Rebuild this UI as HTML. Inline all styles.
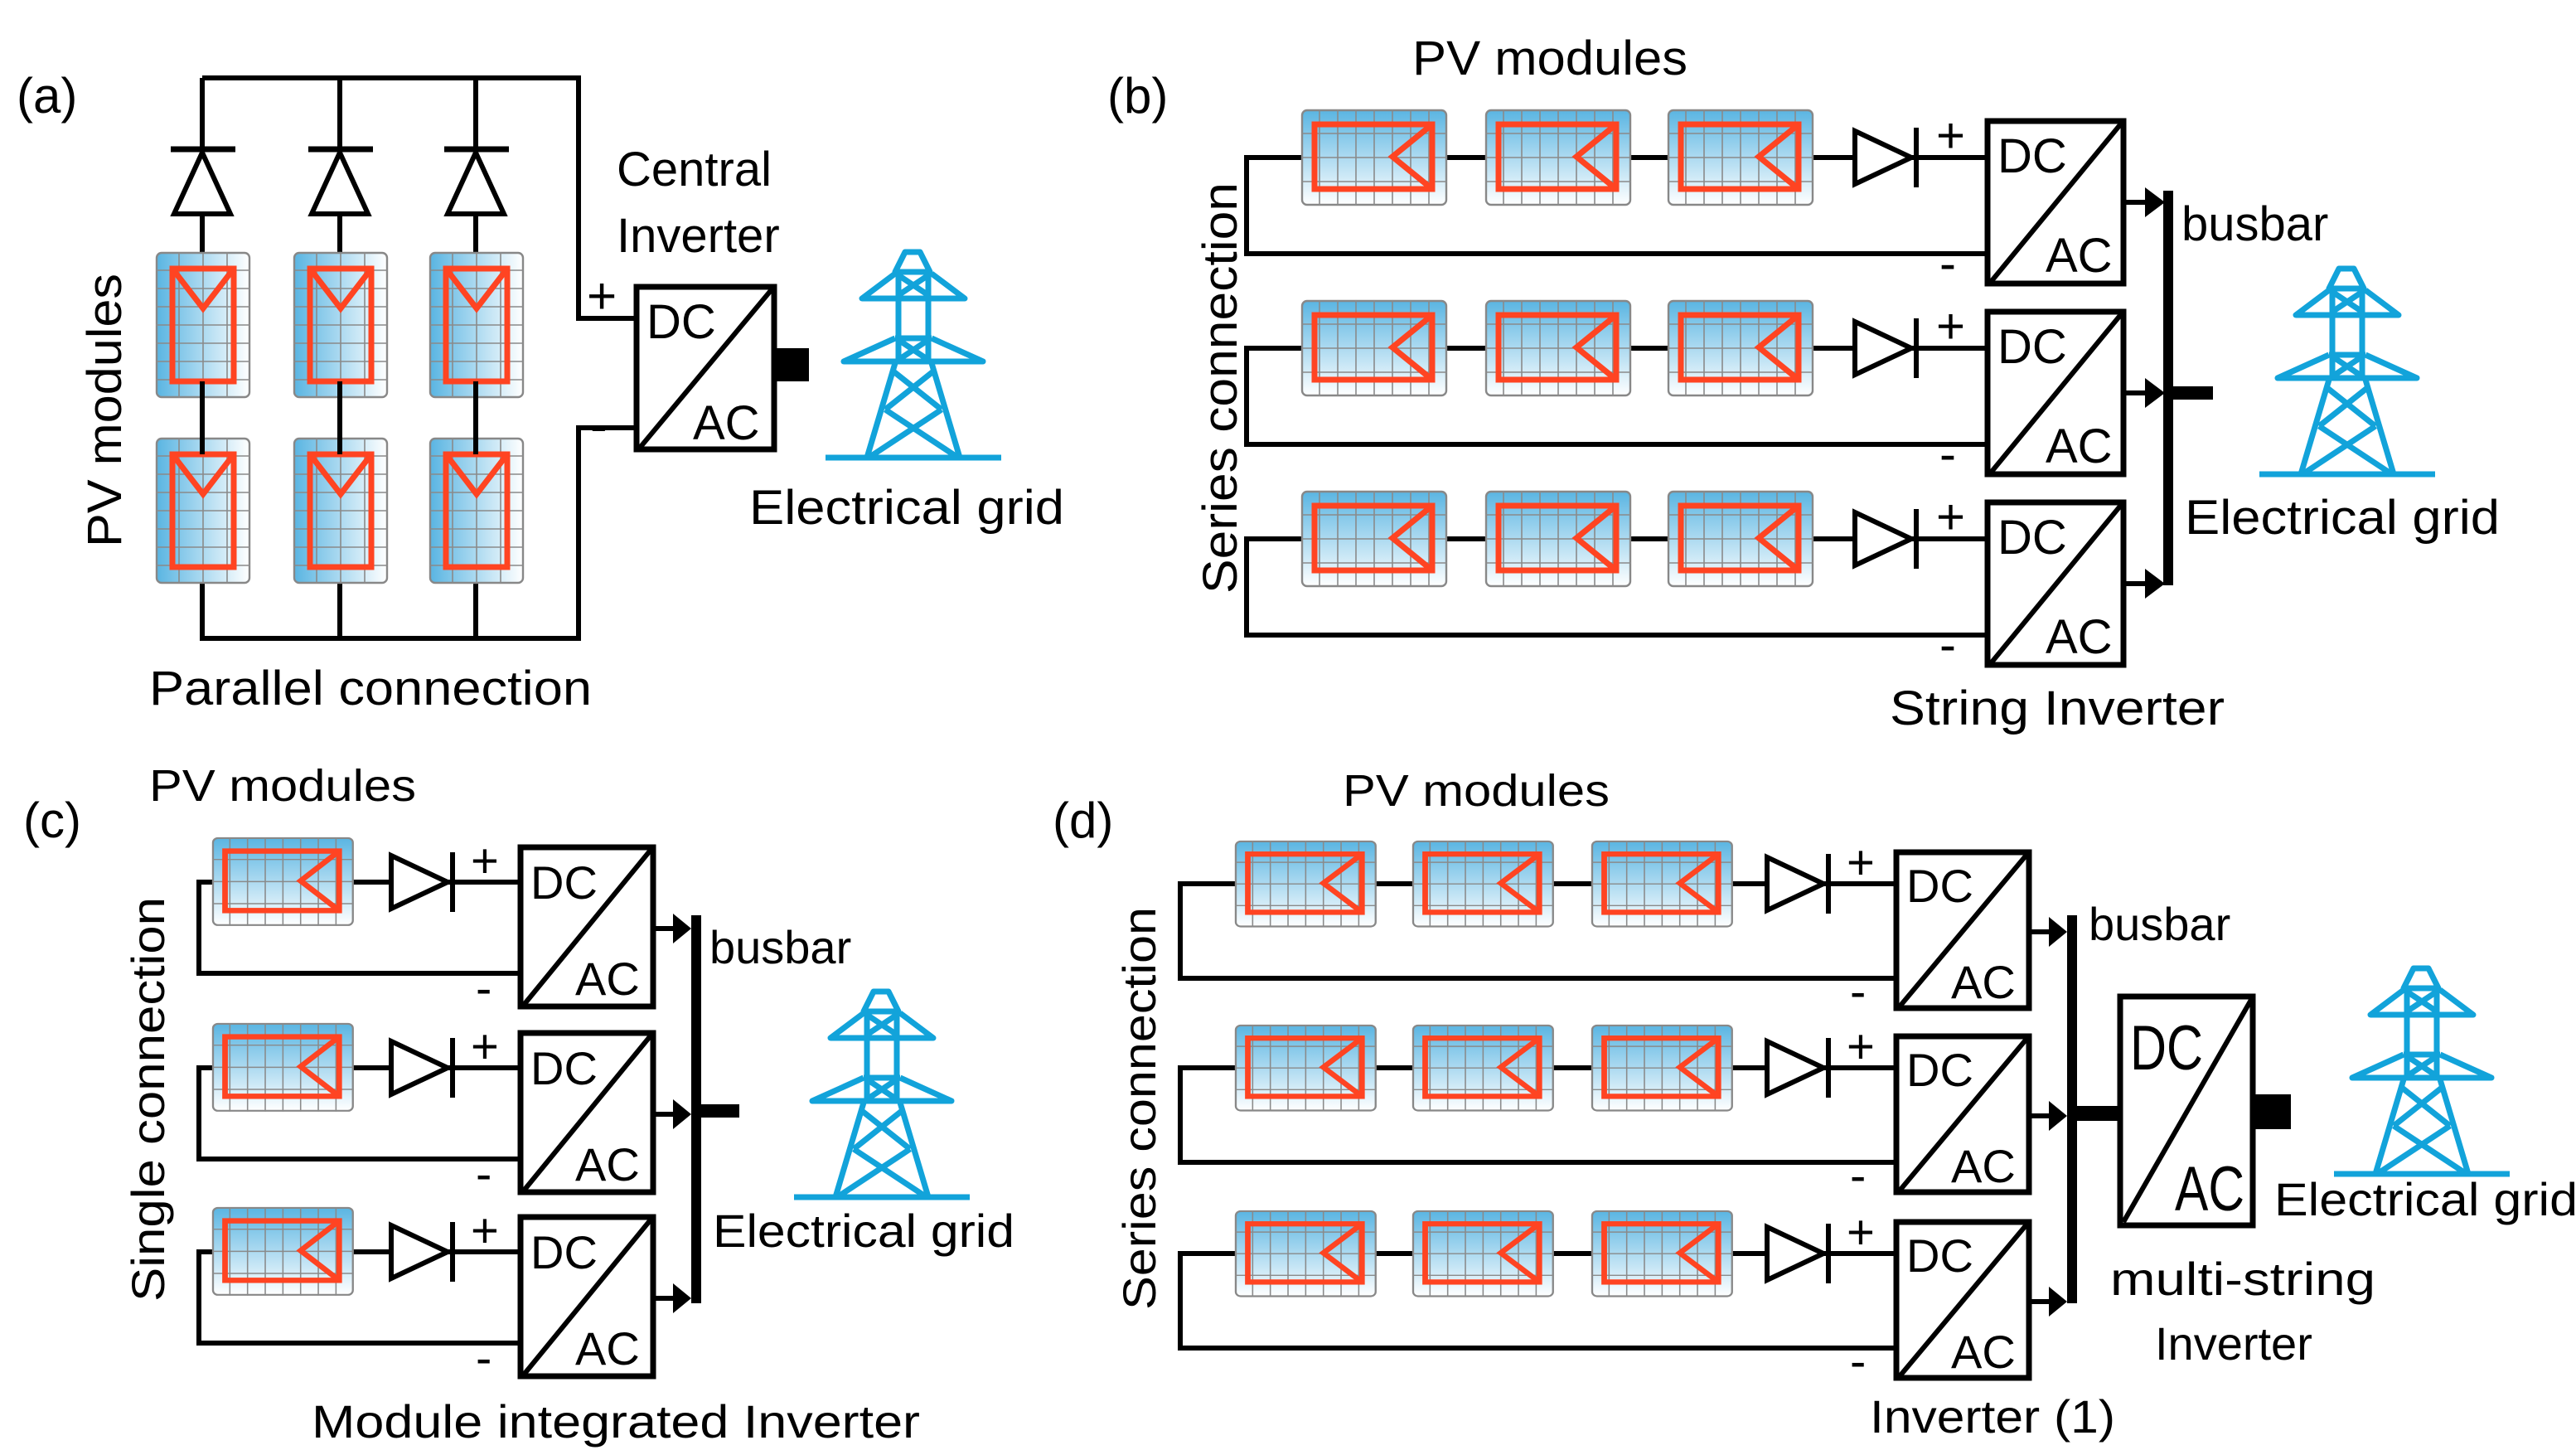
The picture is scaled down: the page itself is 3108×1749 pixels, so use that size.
<!DOCTYPE html>
<html><head><meta charset="utf-8"><style>html,body{margin:0;padding:0;background:#fff}svg{display:block}text{font-family:"Liberation Sans",sans-serif;fill:#000}</style></head><body>
<svg width="3108" height="1749" viewBox="0 0 1554 874.5" xmlns="http://www.w3.org/2000/svg">
<defs>
<linearGradient id="gv" x1="0" y1="0" x2="0" y2="1"><stop offset="0" stop-color="#5ab5e2"/><stop offset="1" stop-color="#ffffff"/></linearGradient>
<linearGradient id="gh" x1="0" y1="0" x2="1" y2="0"><stop offset="0" stop-color="#5ab5e2"/><stop offset="1" stop-color="#ffffff"/></linearGradient>
<g id="mh">
<rect x="0.5" y="0.5" width="87" height="57" rx="3" fill="url(#gv)" stroke="#888" stroke-width="1.2"/>
<path d="M11 0V58M22 0V58M33 0V58M44 0V58M55 0V58M66 0V58M77 0V58M0 14.5H88M0 29H88M0 43.5H88" stroke="#8a8a8a" stroke-width="0.8" fill="none"/>
<rect x="8" y="9" width="71" height="39" fill="none" stroke="#ff4422" stroke-width="3.5"/>
<path d="M79 9L55 28.5L79 48" fill="none" stroke="#ff4422" stroke-width="3.5"/>
</g>
<g id="mv">
<rect x="0.5" y="0.5" width="56" height="87" rx="3" fill="url(#gh)" stroke="#888" stroke-width="1.2"/>
<path d="M0 11H57M0 22H57M0 33H57M0 44H57M0 55H57M0 66H57M0 77H57M14 0V88M28.5 0V88M43 0V88" stroke="#8a8a8a" stroke-width="0.8" fill="none"/>
<rect x="10" y="10" width="37" height="68" fill="none" stroke="#ff4422" stroke-width="3.5"/>
<path d="M10 10L28.5 34L47 10" fill="none" stroke="#ff4422" stroke-width="3.5"/>
</g>
<g id="tw" fill="none" stroke="#12a3da" stroke-width="3.5" stroke-linejoin="round">
<path d="M-5 0H4L10 12H-11Z"/>
<path d="M-11 13L-31 28H31L11 13"/>
<path d="M-9 12V66M9 12V66"/>
<path d="M-9 14L9 26M9 14L-9 26"/>
<path d="M-11 52H11M-11 52L-42 66H42L11 52"/>
<path d="M-9 53L9 65M9 53L-9 65"/>
<path d="M-11 67L-28 124M11 67L28 124"/>
<path d="M-12 72L17 95M12 72L-17 95M-17 95L27 124M17 95L-27 124"/>
<path d="M-53 124H53"/>
</g>
<g id="dr"><polygon points="0,-16 34,0 0,16" fill="#fff" stroke="#000" stroke-width="3"/><line x1="37" y1="-18" x2="37" y2="18" stroke="#000" stroke-width="3"/></g>
</defs>

<!-- ===== (a) ===== -->
<g fill="none" stroke="#000" stroke-width="3">
<path d="M122 47H349V192H383"/>
<path d="M122 47V385H349V258H383"/>
<path d="M205 47V385M287 47V385"/>
</g>
<g>
<polygon points="122,92 105,129 139,129" fill="#fff" stroke="#000" stroke-width="3"/>
<polygon points="205,92 188,129 222,129" fill="#fff" stroke="#000" stroke-width="3"/>
<polygon points="287,92 270,129 304,129" fill="#fff" stroke="#000" stroke-width="3"/>
<path d="M103 90H142M186 90H225M268 90H307" stroke="#000" stroke-width="3.5"/>
</g>
<use href="#mv" x="94" y="152"/><use href="#mv" x="177" y="152"/><use href="#mv" x="259" y="152"/>
<use href="#mv" x="94" y="264"/><use href="#mv" x="177" y="264"/><use href="#mv" x="259" y="264"/>
<path d="M122 230V274M205 230V274M287 230V274" stroke="#000" stroke-width="3"/>
<rect x="384" y="173" width="83" height="98" fill="#fff" stroke="#000" stroke-width="3.5"/>
<line x1="386" y1="270" x2="466" y2="174" stroke="#000" stroke-width="3"/>
<text x="390" y="204" font-size="29">DC</text><text x="418" y="265" font-size="29">AC</text>
<rect x="468" y="210" width="20" height="20" fill="#000"/>
<text x="354" y="189" font-size="31">+</text><text x="356" y="267" font-size="31">-</text>
<text x="372" y="112" font-size="29">Central</text><text x="372" y="152" font-size="29">Inverter</text>
<use href="#tw" x="551" y="152"/>
<text x="452" y="316" font-size="29" textLength="190" lengthAdjust="spacingAndGlyphs">Electrical grid</text>
<text x="10" y="68" font-size="30">(a)</text>
<text transform="translate(73,330) rotate(-90)" font-size="29" textLength="165" lengthAdjust="spacingAndGlyphs">PV modules</text>
<text x="90" y="425" font-size="29" textLength="267" lengthAdjust="spacingAndGlyphs">Parallel connection</text>

<!-- ===== (b) ===== -->
<text x="668" y="68" font-size="30">(b)</text>
<text x="852" y="45" font-size="29" textLength="166" lengthAdjust="spacingAndGlyphs">PV modules</text>
<g id="rowb">
<path d="M1198 95H752V153H1198" fill="none" stroke="#000" stroke-width="3"/>
<use href="#mh" x="785" y="66"/><use href="#mh" x="896" y="66"/><use href="#mh" x="1006" y="66"/>
<use href="#dr" x="1119" y="95"/>
<rect x="1199" y="73" width="82" height="98" fill="#fff" stroke="#000" stroke-width="3.5"/>
<line x1="1201" y1="170" x2="1280" y2="74" stroke="#000" stroke-width="3"/>
<text x="1205" y="104" font-size="29">DC</text><text x="1234" y="164" font-size="29">AC</text>
<text x="1168" y="92" font-size="30">+</text><text x="1170" y="169" font-size="30">-</text>
<line x1="1282" y1="122" x2="1298" y2="122" stroke="#000" stroke-width="3"/>
<polygon points="1294,113 1306,122 1294,131" fill="#000"/>
</g>
<use href="#rowb" y="115"/><use href="#rowb" y="230"/>
<rect x="1305" y="115" width="6" height="238" fill="#000"/>
<rect x="1308" y="233" width="27" height="8" fill="#000"/>
<text x="1316" y="145" font-size="29">busbar</text>
<use href="#tw" x="1416" y="162"/>
<text x="1318" y="322" font-size="29" textLength="190" lengthAdjust="spacingAndGlyphs">Electrical grid</text>
<text x="1140" y="437" font-size="29" textLength="202" lengthAdjust="spacingAndGlyphs">String Inverter</text>
<text transform="translate(746,358) rotate(-90)" font-size="29" textLength="248" lengthAdjust="spacingAndGlyphs">Series connection</text>

<!-- ===== (c) ===== -->
<text x="14" y="505" font-size="30">(c)</text>
<text x="90" y="483" font-size="27" textLength="161" lengthAdjust="spacingAndGlyphs">PV modules</text>
<g id="rowc">
<path d="M313 532H120V587H313" fill="none" stroke="#000" stroke-width="3"/>
<g transform="translate(128,505) scale(0.97,0.92)"><use href="#mh"/></g>
<use href="#dr" x="236" y="532"/>
<rect x="314" y="511" width="80" height="96" fill="#fff" stroke="#000" stroke-width="3.5"/>
<line x1="316" y1="606" x2="393" y2="512" stroke="#000" stroke-width="3"/>
<text x="320" y="542" font-size="28">DC</text><text x="347" y="600" font-size="28">AC</text>
<text x="284" y="529" font-size="29">+</text><text x="287" y="606" font-size="29">-</text>
<line x1="395" y1="560" x2="410" y2="560" stroke="#000" stroke-width="3"/>
<polygon points="406,551 417,560 406,569" fill="#000"/>
</g>
<use href="#rowc" y="112"/><use href="#rowc" y="223"/>
<rect x="417" y="552" width="6" height="234" fill="#000"/>
<rect x="420" y="666" width="26" height="8" fill="#000"/>
<text x="428" y="581" font-size="28">busbar</text>
<use href="#tw" x="532" y="598"/>
<text x="430" y="752" font-size="28" textLength="182" lengthAdjust="spacingAndGlyphs">Electrical grid</text>
<text x="188" y="867" font-size="28" textLength="367" lengthAdjust="spacingAndGlyphs">Module integrated Inverter</text>
<text transform="translate(99,785) rotate(-90)" font-size="28" textLength="244" lengthAdjust="spacingAndGlyphs">Single connection</text>

<!-- ===== (d) ===== -->
<text x="635" y="505" font-size="30">(d)</text>
<text x="810" y="486" font-size="27" textLength="161" lengthAdjust="spacingAndGlyphs">PV modules</text>
<g id="rowd">
<path d="M1143 533H712V590H1143" fill="none" stroke="#000" stroke-width="3"/>
<g transform="translate(745,507) scale(0.97,0.9)"><use href="#mh"/></g>
<g transform="translate(852,507) scale(0.97,0.9)"><use href="#mh"/></g>
<g transform="translate(960,507) scale(0.97,0.9)"><use href="#mh"/></g>
<use href="#dr" x="1066" y="533"/>
<rect x="1144" y="514" width="80" height="94" fill="#fff" stroke="#000" stroke-width="3.5"/>
<line x1="1146" y1="607" x2="1223" y2="515" stroke="#000" stroke-width="3"/>
<text x="1150" y="544" font-size="28">DC</text><text x="1177" y="602" font-size="28">AC</text>
<text x="1114" y="530" font-size="29">+</text><text x="1116" y="608" font-size="29">-</text>
<line x1="1225" y1="562" x2="1240" y2="562" stroke="#000" stroke-width="3"/>
<polygon points="1236,553 1247,562 1236,571" fill="#000"/>
</g>
<use href="#rowd" y="111"/><use href="#rowd" y="223"/>
<rect x="1247" y="552" width="6" height="234" fill="#000"/>
<rect x="1250" y="667" width="28" height="9" fill="#000"/>
<rect x="1279" y="601" width="80" height="138" fill="#fff" stroke="#000" stroke-width="3.5"/>
<line x1="1281" y1="737" x2="1358" y2="603" stroke="#000" stroke-width="3"/>
<text x="1285" y="645" font-size="38" textLength="44" lengthAdjust="spacingAndGlyphs">DC</text>
<text x="1312" y="730" font-size="38" textLength="42" lengthAdjust="spacingAndGlyphs">AC</text>
<rect x="1360" y="660" width="22" height="21" fill="#000"/>
<text x="1260" y="567" font-size="28">busbar</text>
<use href="#tw" x="1461" y="584"/>
<text x="1372" y="733" font-size="28" textLength="183" lengthAdjust="spacingAndGlyphs">Electrical grid</text>
<text x="1273" y="781" font-size="28" textLength="160" lengthAdjust="spacingAndGlyphs">multi-string</text>
<text x="1300" y="820" font-size="28">Inverter</text>
<text x="1128" y="864" font-size="28" textLength="148" lengthAdjust="spacingAndGlyphs">Inverter (1)</text>
<text transform="translate(697,790) rotate(-90)" font-size="28" textLength="243" lengthAdjust="spacingAndGlyphs">Series connection</text>
</svg>
</body></html>
